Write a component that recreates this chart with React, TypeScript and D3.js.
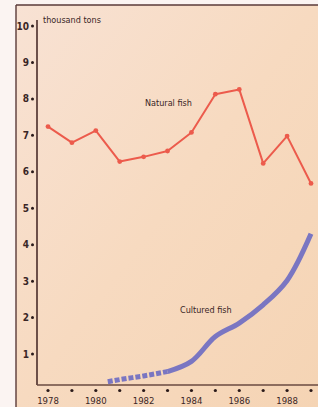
import React from "react";
import * as d3 from "d3";

const years = [1978, 1979, 1980, 1981, 1982, 1983, 1984, 1985, 1986, 1987, 1988, 1989];
const naturalFish = [7.24, 6.8, 7.13, 6.28, 6.41, 6.57, 7.08, 8.13, 8.26, 6.23, 6.98, 5.68];
const culturedDashedYears = [1980.5, 1981, 1982, 1983];
const culturedDashed = [0.24, 0.3, 0.4, 0.52];
const culturedSolidYears = [1983, 1984, 1985, 1986, 1987, 1988, 1989];
const culturedSolid = [0.52, 0.8, 1.48, 1.85, 2.35, 3.02, 4.3];
const yTicks = [1, 2, 3, 4, 5, 6, 7, 8, 9, 10];
const xLabelYears = [1978, 1980, 1982, 1984, 1986, 1988];

const W = 318;
const H = 407;
const axisX = 37;
const axisBottom = 385;

export default function App() {
  const x = d3.scaleLinear().domain([1978, 1989]).range([48, 311]);
  const y = d3.scaleLinear().domain([0, 10]).range([390.5, 26]);

  const natLine = d3
    .line<number>()
    .x((_, i) => x(years[i]))
    .y((d) => y(d));

  const cultDash = d3
    .line<number>()
    .x((_, i) => x(culturedDashedYears[i]))
    .y((d) => y(d))
    .curve(d3.curveMonotoneX);
  const cultSolid = d3
    .line<number>()
    .x((_, i) => x(culturedSolidYears[i]))
    .y((d) => y(d))
    .curve(d3.curveCatmullRom.alpha(0.5));

  const font = "'Liberation Sans Narrow', 'DejaVu Sans Condensed', 'Roboto', sans-serif";

  return (
    <svg
      width={W}
      height={H}
      style={{ position: "absolute", left: 0, top: 0, display: "block" }}
    >
      <defs>
        <linearGradient id="bg" x1="0" y1="0" x2="1" y2="1">
          <stop offset="0" stopColor="#f8e2d4" />
          <stop offset="0.5" stopColor="#f7dac0" />
          <stop offset="1" stopColor="#f5d4b4" />
        </linearGradient>
      </defs>
      <rect x={0} y={0} width={W} height={H} fill="#fbf4f2" />
      <rect x={16} y={5} width={W - 16} height={H - 5} fill="url(#bg)" />
      {/* frame */}
      <line x1={16} y1={5} x2={W} y2={5} stroke="#5a3a38" strokeWidth={1.6} />
      <line x1={16} y1={5} x2={16} y2={H} stroke="#5a3a38" strokeWidth={1.4} />

      {/* axes */}
      <line x1={axisX} y1={20} x2={axisX} y2={axisBottom} stroke="#4a2c2a" strokeWidth={1.6} />
      <line x1={axisX} y1={axisBottom} x2={W} y2={axisBottom} stroke="#6a4a40" strokeWidth={1.4} />

      {yTicks.map((t) => (
        <g key={t}>
          <circle cx={32.5} cy={y(t)} r={1.5} fill="#2a1a1a" />
          <text
            x={29}
            y={y(t) + 3.5}
            textAnchor="end"
            fontFamily={font}
            fontSize={10}
            fontWeight="bold"
            fill="#3a2626"
          >
            {t}
          </text>
        </g>
      ))}

      {years.map((yr) => (
        <circle key={yr} cx={x(yr)} cy={390.5} r={1.6} fill="#2a1a1a" />
      ))}
      {xLabelYears.map((yr) => (
        <text
          key={yr}
          x={x(yr)}
          y={404}
          textAnchor="middle"
          fontFamily={font}
          fontSize={9.5}
          fill="#3a2626"
        >
          {yr}
        </text>
      ))}

      <text x={43} y={23} fontFamily={font} fontSize={9} fill="#3a2626">
        thousand tons
      </text>

      {/* natural fish */}
      <path d={natLine(naturalFish) || ""} fill="none" stroke="#ec5b4c" strokeWidth={2} strokeLinejoin="round" />
      {naturalFish.map((v, i) => (
        <circle key={i} cx={x(years[i])} cy={y(v)} r={2.4} fill="#ec5b4c" />
      ))}
      <text x={145} y={106} fontFamily={font} fontSize={9} fill="#3a2626">
        Natural fish
      </text>

      {/* cultured fish */}
      <path
        d={cultDash(culturedDashed) || ""}
        fill="none"
        stroke="#7a76c2"
        strokeWidth={5}
        strokeDasharray="5,2"
      />
      <path
        d={cultSolid(culturedSolid) || ""}
        fill="none"
        stroke="#7a76c2"
        strokeWidth={5}
        strokeLinecap="butt"
        strokeLinejoin="round"
      />
      <text x={180} y={313} fontFamily={font} fontSize={9} fill="#3a2626">
        Cultured fish
      </text>
    </svg>
  );
}
